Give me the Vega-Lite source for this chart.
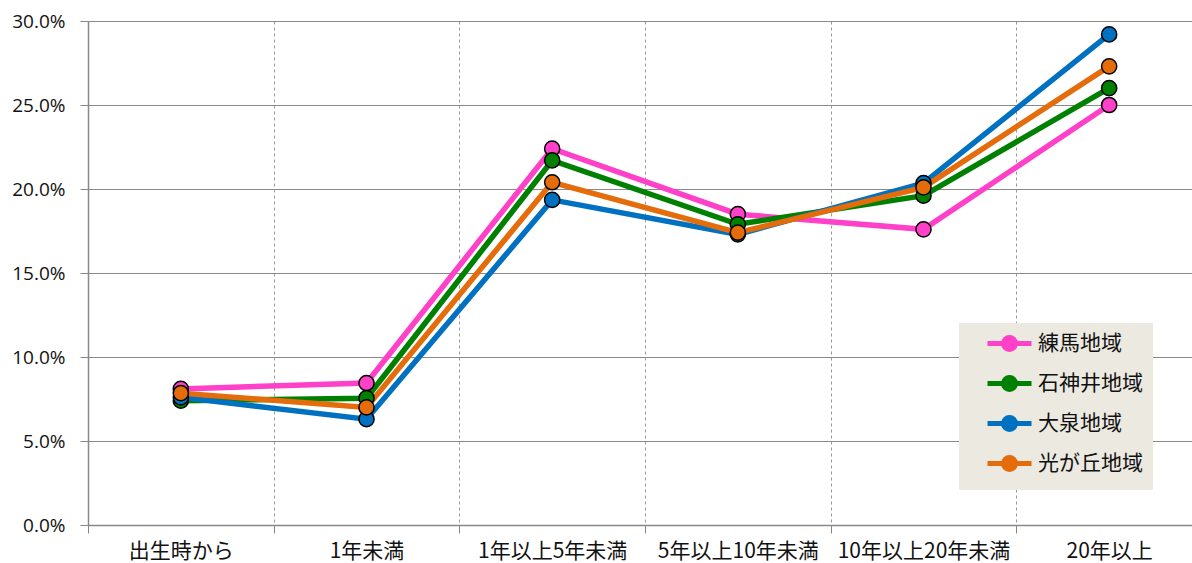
{
  "$schema": "https://vega.github.io/schema/vega-lite/v6.json",
  "width": 1104,
  "height": 504,
  "autosize": {"type": "none"},
  "padding": {"left": 88, "top": 21, "right": 0, "bottom": 38},
  "config": {"view": {"stroke": null}, "font": "Noto Sans CJK JP"},
  "data": {
    "values": [
      {"region": "練馬地域", "period": "出生時から", "value": 0.081},
      {"region": "練馬地域", "period": "1年未満", "value": 0.0845},
      {"region": "練馬地域", "period": "1年以上5年未満", "value": 0.224},
      {"region": "練馬地域", "period": "5年以上10年未満", "value": 0.185},
      {"region": "練馬地域", "period": "10年以上20年未満", "value": 0.176},
      {"region": "練馬地域", "period": "20年以上", "value": 0.250},
      {"region": "石神井地域", "period": "出生時から", "value": 0.074},
      {"region": "石神井地域", "period": "1年未満", "value": 0.0755},
      {"region": "石神井地域", "period": "1年以上5年未満", "value": 0.217},
      {"region": "石神井地域", "period": "5年以上10年未満", "value": 0.179},
      {"region": "石神井地域", "period": "10年以上20年未満", "value": 0.196},
      {"region": "石神井地域", "period": "20年以上", "value": 0.260},
      {"region": "大泉地域", "period": "出生時から", "value": 0.076},
      {"region": "大泉地域", "period": "1年未満", "value": 0.063},
      {"region": "大泉地域", "period": "1年以上5年未満", "value": 0.1935},
      {"region": "大泉地域", "period": "5年以上10年未満", "value": 0.173},
      {"region": "大泉地域", "period": "10年以上20年未満", "value": 0.2035},
      {"region": "大泉地域", "period": "20年以上", "value": 0.292},
      {"region": "光が丘地域", "period": "出生時から", "value": 0.0785},
      {"region": "光が丘地域", "period": "1年未満", "value": 0.070},
      {"region": "光が丘地域", "period": "1年以上5年未満", "value": 0.204},
      {"region": "光が丘地域", "period": "5年以上10年未満", "value": 0.174},
      {"region": "光が丘地域", "period": "10年以上20年未満", "value": 0.201},
      {"region": "光が丘地域", "period": "20年以上", "value": 0.273}
    ]
  },
  "encoding": {
    "x": {
      "field": "period", "type": "nominal",
      "sort": ["出生時から", "1年未満", "1年以上5年未満", "5年以上10年未満", "10年以上20年未満", "20年以上"],
      "scale": {"range": [0, 1114], "paddingInner": 0, "paddingOuter": 0},
      "axis": {
        "title": null, "labelAngle": 0, "tickBand": "extent", "grid": true,
        "gridDash": [3, 3], "gridColor": "#999999", "gridWidth": 1,
        "tickSize": 8, "tickColor": "#888888", "domainColor": "#888888", "domainWidth": 1.5,
        "labelFontSize": 21, "labelColor": "#111111", "labelPadding": 7, "labelFont": "Noto Sans CJK JP"
      }
    },
    "y": {
      "field": "value", "type": "quantitative",
      "scale": {"domain": [0, 0.3], "nice": false},
      "axis": {
        "title": null, "format": ".1%", "values": [0, 0.05, 0.1, 0.15, 0.2, 0.25, 0.3],
        "grid": true, "gridColor": "#8a8a8a", "gridWidth": 1.2,
        "tickSize": 8, "tickColor": "#888888", "domainColor": "#888888", "domainWidth": 1.5,
        "labelFontSize": 19, "labelColor": "#111111", "labelPadding": 15, "labelFont": "Open Sans"
      }
    }
  },
  "layer": [
    {
      "mark": {"type": "line", "strokeWidth": 5.5},
      "encoding": {
        "color": {
          "field": "region", "type": "nominal",
          "scale": {"domain": ["練馬地域", "石神井地域", "大泉地域", "光が丘地域"], "range": ["#FF40C8", "#008000", "#0070C0", "#E46C0A"]},
          "legend": {
            "orient": "none", "legendX": 871, "legendY": 302, "title": null,
            "symbolType": "M-2.75,0L-0.75,0M0.75,0L2.75,0M0.75,0A0.75,0.75 0 1,1 -0.75,0A0.75,0.75 0 1,1 0.75,0Z",
            "symbolSize": 256, "symbolStrokeWidth": 5,
            "labelFontSize": 21, "labelColor": "#111111", "labelOffset": 18,
            "fillColor": "#EBE9E0", "padding": 10, "rowPadding": 7, "symbolOffset": 30,
            "labelExpr": "datum.label + '　　'",
            "encode": {"symbols": {"update": {"fill": {"scale": "color", "field": "value"}, "fillOpacity": {"value": 1}}}}
          }
        }
      }
    },
    {
      "mark": {"type": "point", "filled": true, "size": 230, "stroke": "black", "strokeWidth": 1.5, "opacity": 1},
      "encoding": {
        "fill": {
          "field": "region", "type": "nominal",
          "scale": {"domain": ["練馬地域", "石神井地域", "大泉地域", "光が丘地域"], "range": ["#FF40C8", "#008000", "#0070C0", "#E46C0A"]},
          "legend": null
        }
      }
    }
  ]
}
